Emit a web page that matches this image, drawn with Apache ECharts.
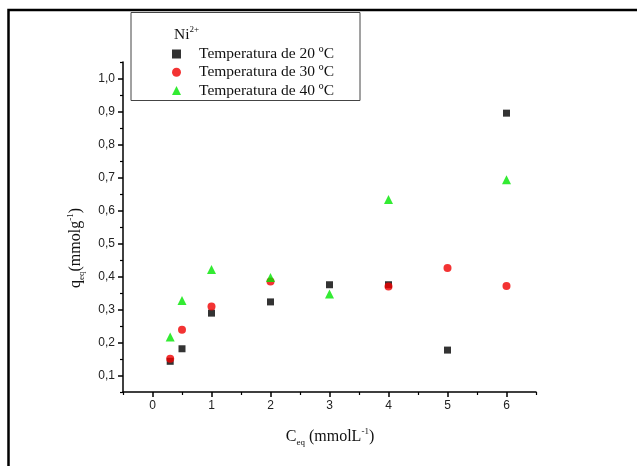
<!DOCTYPE html>
<html><head><meta charset="utf-8">
<script src="https://cdn.jsdelivr.net/npm/echarts@6/dist/echarts.min.js"></script>
<style>html,body{margin:0;padding:0;background:#fff}#c{width:637px;height:466px}</style>
</head><body><div id="c"></div>
<script>
// Data
const x20 = [0.3, 0.5, 1, 2, 3, 4, 5, 6];
const q20 = [0.143, 0.181, 0.289, 0.323, 0.375, 0.375, 0.177, 0.895];
const x30 = [0.3, 0.5, 1, 2, 4, 5, 6];
const q30 = [0.151, 0.239, 0.309, 0.385, 0.370, 0.426, 0.371];
const x40 = [0.3, 0.5, 1, 2, 3, 4, 6];
const q40 = [0.217, 0.327, 0.421, 0.397, 0.347, 0.633, 0.693];
const seriesNames = ['Temperatura de 20 ºC', 'Temperatura de 30 ºC', 'Temperatura de 40 ºC'];
const xTicks = [0, 1, 2, 3, 4, 5, 6];
const xMinorTicks = [-0.5, 0.5, 1.5, 2.5, 3.5, 4.5, 5.5, 6.5];
const yTicks = [0.1, 0.2, 0.3, 0.4, 0.5, 0.6, 0.7, 0.8, 0.9, 1.0];
const yMinorTicks = [0.05, 0.15, 0.25, 0.35, 0.45, 0.55, 0.65, 0.75, 0.85, 0.95, 1.05];

const zip = (a, b) => a.map((v, i) => [v, b[i]]);
const chart = echarts.init(document.getElementById('c'), null, {renderer: 'canvas'});
const serif = '"Liberation Serif", "DejaVu Serif", serif';
const sans = '"Liberation Sans", Arial, sans-serif';
const lineStyle = {color: '#000', width: 1.5};

const xBase = {
  type: 'value', min: -0.5, max: 6.5, position: 'bottom',
  axisLine: {show: true, onZero: false, lineStyle: lineStyle},
  splitLine: {show: false}
};
const yBase = {
  type: 'value', min: 0.05, max: 1.05, position: 'left',
  axisLine: {show: true, onZero: false, lineStyle: lineStyle},
  splitLine: {show: false}
};

chart.setOption({
  animation: false,
  backgroundColor: '#fff',
  grid: {left: 123, right: 101, top: 62, bottom: 74, containLabel: false},
  xAxis: [
    Object.assign({}, xBase, {
      axisTick: {show: true, inside: false, length: 5, customValues: xTicks, lineStyle: {color: '#000', width: 1.5}},
      axisLabel: {show: true, margin: 8, customValues: xTicks, color: '#222', fontFamily: sans, fontSize: 12,
        formatter: v => String(v)}
    }),
    Object.assign({}, xBase, {
      axisLine: {show: false, onZero: false},
      axisTick: {show: true, inside: false, length: 3, customValues: xMinorTicks, lineStyle: {color: '#000', width: 1.2}},
      axisLabel: {show: false}
    })
  ],
  yAxis: [
    Object.assign({}, yBase, {
      axisTick: {show: true, inside: false, length: 5, customValues: yTicks, lineStyle: {color: '#000', width: 1.5}},
      axisLabel: {show: true, margin: 8, customValues: yTicks, color: '#222', fontFamily: sans, fontSize: 12,
        formatter: v => v.toFixed(1).replace('.', ',')}
    }),
    Object.assign({}, yBase, {
      axisLine: {show: false, onZero: false},
      axisTick: {show: true, inside: false, length: 3, customValues: yMinorTicks, lineStyle: {color: '#000', width: 1.2}},
      axisLabel: {show: false}
    })
  ],
  legend: {
    show: true, orient: 'vertical', left: 167, top: 41, z: 20,
    itemWidth: 9, itemHeight: 9, itemGap: 2.3,
    textStyle: {fontFamily: serif, fontSize: 15.5, color: '#111', lineHeight: 16, padding: [0, 0, 0, 13]},
    data: [
      {name: seriesNames[0], icon: 'rect'},
      {name: seriesNames[1], icon: 'circle'},
      {name: seriesNames[2], icon: 'triangle'}
    ]
  },
  graphic: [
    {type: 'polyline', silent: true, shape: {points: [[8.5, 466], [8.5, 10], [637, 10]]},
      style: {stroke: '#000', lineWidth: 2.5, fill: null}},
    {type: 'rect', silent: true, shape: {x: 131, y: 12.5, width: 229, height: 88},
      style: {stroke: '#444', lineWidth: 1, fill: '#fff'}, z: 1},
    {type: 'text', silent: true, left: 174, top: 25, z: 6,
      style: {text: '{b|Ni}{s|2+}', rich: {
        b: {fontFamily: serif, fontSize: 15.5, fill: '#111', lineHeight: 18, verticalAlign: 'bottom'},
        s: {fontFamily: serif, fontSize: 9, fill: '#111', lineHeight: 10, verticalAlign: 'top'}
      }}},
    {type: 'text', silent: true, x: 330, y: 437, z: 6,
      style: {text: '{b|C}{s|eq}{b| (mmolL}{p|-1}{b|)}', align: 'center', verticalAlign: 'middle', rich: {
        b: {fontFamily: serif, fontSize: 16, fill: '#111', lineHeight: 20, verticalAlign: 'middle'},
        s: {fontFamily: serif, fontSize: 9, fill: '#111', lineHeight: 8, verticalAlign: 'bottom'},
        p: {fontFamily: serif, fontSize: 9, fill: '#111', lineHeight: 10, verticalAlign: 'top'}
      }}},
    {type: 'text', silent: true, x: 76, y: 248, rotation: Math.PI / 2, z: 6,
      style: {text: '{b|q}{s|eq}{b|(mmolg}{p|-1}{b|)}', align: 'center', verticalAlign: 'middle', rich: {
        b: {fontFamily: serif, fontSize: 16, fill: '#111', lineHeight: 20, verticalAlign: 'middle'},
        s: {fontFamily: serif, fontSize: 9, fill: '#111', lineHeight: 8, verticalAlign: 'bottom'},
        p: {fontFamily: serif, fontSize: 9, fill: '#111', lineHeight: 10, verticalAlign: 'top'}
      }}}
  ],
  series: [
    {name: seriesNames[0], type: 'scatter', symbol: 'rect', symbolSize: 7,
      itemStyle: {color: '#000'}, data: zip(x20, q20), z: 2},
    {name: seriesNames[1], type: 'scatter', symbol: 'circle', symbolSize: 8,
      itemStyle: {color: '#f00000'}, data: zip(x30, q30), z: 3},
    {name: seriesNames[2], type: 'scatter', symbol: 'triangle', symbolSize: 9,
      itemStyle: {color: '#00e600'}, data: zip(x40, q40), z: 4}
  ]
});
</script>
</body></html>
